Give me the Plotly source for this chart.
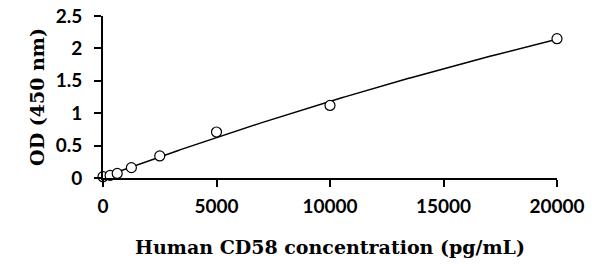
import numpy as np
import plotly.graph_objects as go

conc = [0, 312.5, 625, 1250, 2500, 5000, 10000, 20000]
od = [0.02, 0.04, 0.07, 0.16, 0.34, 0.71, 1.12, 2.15]

x_ticks = [0, 5000, 10000, 15000, 20000]
y_ticks = [0, 0.5, 1, 1.5, 2, 2.5]

coef = np.polyfit(conc, od, 2)
fit_x = np.linspace(min(conc), max(conc), 200)
fit_y = np.polyval(coef, fit_x)

fig = go.Figure()
fig.add_trace(go.Scatter(x=fit_x, y=fit_y, mode="lines",
                         line=dict(color="black", width=1.5),
                         showlegend=False, hoverinfo="skip"))
fig.add_trace(go.Scatter(x=conc, y=od, mode="markers",
                         marker=dict(symbol="circle", size=10, color="white",
                                     line=dict(color="black", width=1.2)),
                         showlegend=False, cliponaxis=False))

tick_font = dict(family="Lato", size=19, color="black", weight="bold")
title_font = dict(family="DejaVu Serif", size=19, color="black", weight="bold")

fig.update_layout(
    width=592, height=268,
    margin=dict(l=103, r=35, t=16, b=90),
    paper_bgcolor="white", plot_bgcolor="white",
    xaxis=dict(range=[0, 20000], tickvals=x_ticks, tickformat="d",
               automargin=False,
               showgrid=False, zeroline=False, showline=True,
               linecolor="black", linewidth=2, ticks="outside",
               ticklen=7, tickwidth=2, tickcolor="black",
               ticklabelstandoff=3,
               tickfont=tick_font,
               title=dict(text="Human CD58 concentration (pg/mL)",
                          font=title_font, standoff=25)),
    yaxis=dict(range=[0, 2.5], tickvals=y_ticks, automargin=False,
               showgrid=False, zeroline=False, showline=True,
               linecolor="black", linewidth=2, ticks="outside",
               ticklen=7, tickwidth=2, tickcolor="black",
               ticklabelstandoff=8,
               tickfont=tick_font,
               title=dict(text="OD (450 nm)", font=title_font, standoff=6)),
)

fig.write_html("out.html", config={"displayModeBar": False},
               post_script="document.body.style.margin='0';")
